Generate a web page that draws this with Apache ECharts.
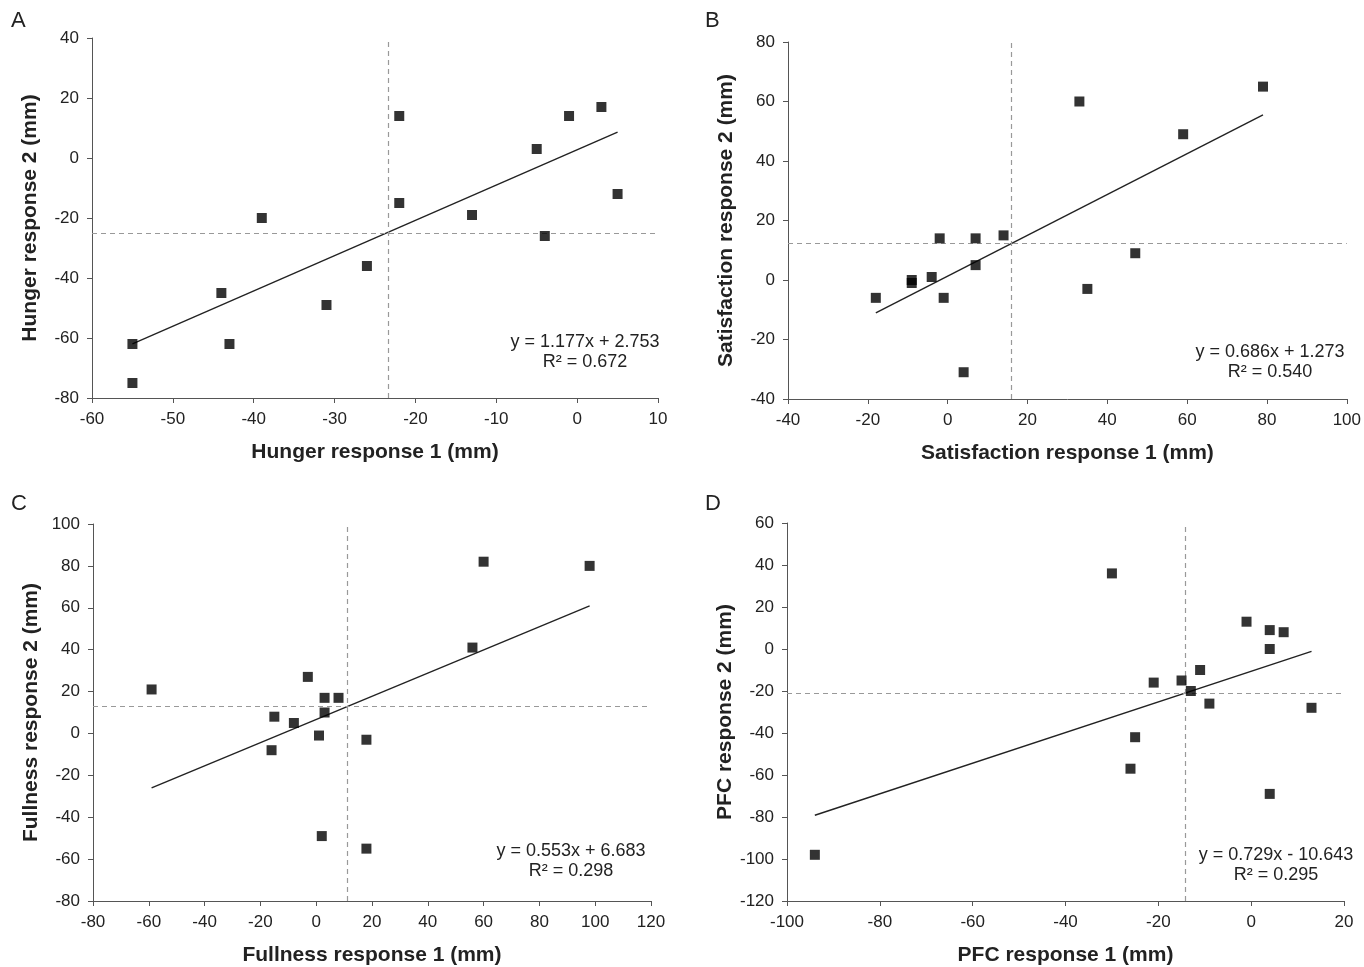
<!DOCTYPE html>
<html>
<head>
<meta charset="utf-8">
<script src="https://cdn.jsdelivr.net/npm/echarts@6/dist/echarts.min.js"></script>
<style>
html,body{margin:0;padding:0;background:#fff;}
#chart{width:1364px;height:967px;}
</style>
</head>
<body>
<div id="chart"></div>
<script>
// ---- Data ----
const hungerPoints = [[-55,-62],[-55,-75],[-44,-45],[-43,-62],[-39,-20],[-31,-49],[-26,-36],[-22,14],[-22,-15],[-13,-19],[-5,3],[-4,-26],[-1,14],[3,17],[5,-12]];
const satisfactionPoints = [[-18,-6],[-9,0],[-9,-1],[-4,1],[-2,14],[-1,-6],[4,-31],[7,14],[7,5],[14,15],[33,60],[35,-3],[47,9],[59,49],[79,65]];
const fullnessPoints = [[-59,21],[-16,-8],[-15,8],[-8,5],[-3,27],[1,-1],[2,-49],[3,17],[3,10],[8,17],[18,-3],[18,-55],[56,41],[60,82],[98,80]];
const pfcPoints = [[-94,-98],[-30,36],[-26,-57],[-25,-42],[-21,-16],[-15,-15],[-13,-20],[-11,-10],[-9,-26],[-1,13],[4,9],[4,0],[4,-69],[7,8],[13,-28]];

// regression: slope, intercept, x-range of fitted line
const fitSlopes = [1.177, 0.686, 0.553, 0.729];
const fitIntercepts = [2.753, 1.273, 6.683, -10.643];
const fitXRanges = [[-55,5],[-18,79],[-59,98],[-94,13]];
// mean reference lines (dashed): [x, y]
const meanLines = [[-23.3,-25],[16,12.3],[11,12.9],[-14.3,-21]];
const eqTexts = ['y = 1.177x + 2.753\nR² = 0.672','y = 0.686x + 1.273\nR² = 0.540','y = 0.553x + 6.683\nR² = 0.298','y = 0.729x - 10.643\nR² = 0.295'];
const xNames = ['Hunger response 1 (mm)','Satisfaction response 1 (mm)','Fullness response 1 (mm)','PFC response 1 (mm)'];
const yNames = ['Hunger response 2 (mm)','Satisfaction response 2 (mm)','Fullness response 2 (mm)','PFC response 2 (mm)'];
const xRanges = [[-60,10,10],[-40,100,20],[-80,120,20],[-100,20,20]];
const yRanges = [[-80,40,20],[-40,80,20],[-80,100,20],[-120,60,20]];
const panelLetters = ['A','B','C','D'];
const allPoints = [hungerPoints, satisfactionPoints, fullnessPoints, pfcPoints];

// ---- Layout ----
const grids = [
  {left:92, right:706, top:38, bottom:569},
  {left:788, right:16, top:42, bottom:568},
  {left:93, right:713, top:524, bottom:66},
  {left:787, right:20, top:523, bottom:64}
];
const letterPos = [[11,10],[705,10],[11,493],[705,493]];
const eqPos = [[585,352],[1270,362],[571,861],[1276,865]];

const axisColor = '#555';
const labelFont = 'Liberation Sans Narrow, Arial Narrow, Liberation Sans, Arial, sans-serif';
const xAxes = [], yAxes = [], series = [], graphics = [];
for (let i=0;i<4;i++){
  xAxes.push({
    type:'value', gridIndex:i, min:xRanges[i][0], max:xRanges[i][1], interval:xRanges[i][2],
    name:xNames[i], nameLocation:'middle', nameGap:44,
    nameTextStyle:{fontSize:21, fontWeight:'bold', color:'#222', fontFamily:'Liberation Sans, Arial, sans-serif'},
    axisLine:{onZero:false, lineStyle:{color:axisColor, width:1}},
    axisTick:{show:true, inside:false, length:5, lineStyle:{color:axisColor}},
    axisLabel:{fontSize:17, color:'#222', margin:13, fontFamily:labelFont},
    splitLine:{show:false}
  });
  yAxes.push({
    type:'value', gridIndex:i, min:yRanges[i][0], max:yRanges[i][1], interval:yRanges[i][2],
    name:yNames[i], nameLocation:'middle', nameGap:51, nameRotate:90,
    nameTextStyle:{fontSize:21, fontWeight:'bold', color:'#222', fontFamily:'Liberation Sans, Arial, sans-serif'},
    axisLine:{onZero:false, lineStyle:{color:axisColor, width:1}},
    axisTick:{show:true, inside:false, length:5, lineStyle:{color:axisColor}},
    axisLabel:{fontSize:17, color:'#222', margin:13, fontFamily:labelFont},
    splitLine:{show:false}
  });
  series.push({
    type:'scatter', xAxisIndex:i, yAxisIndex:i, data:allPoints[i],
    symbol:'rect', symbolSize:10, itemStyle:{color:'#000'}, z:5,
    markLine:{
      silent:true, symbol:['none','none'], label:{show:false},
      lineStyle:{color:'#999', type:[5,4], width:1.2},
      data:[{xAxis:meanLines[i][0]},{yAxis:meanLines[i][1]}]
    }
  });
  const xr = fitXRanges[i];
  series.push({
    type:'line', xAxisIndex:i, yAxisIndex:i, symbol:'none',
    data:xr.map(x=>[x, fitSlopes[i]*x + fitIntercepts[i]]),
    lineStyle:{color:'#222', width:1.4}, z:4
  });
  graphics.push({type:'text', left:letterPos[i][0], top:letterPos[i][1],
    style:{text:panelLetters[i], fontSize:22, fill:'#222', fontFamily:'Liberation Sans, Arial, sans-serif'}});
  graphics.push({type:'text', x:eqPos[i][0], y:eqPos[i][1],
    style:{text:eqTexts[i], fontSize:18, lineHeight:20, fill:'#222', textAlign:'center', textVerticalAlign:'middle', fontFamily:labelFont}});
}

const chart = echarts.init(document.getElementById('chart'));
chart.setOption({
  animation:false,
  backgroundColor:'#fff',
  grid:grids,
  xAxis:xAxes,
  yAxis:yAxes,
  series:series,
  graphic:graphics
});
</script>
</body>
</html>
